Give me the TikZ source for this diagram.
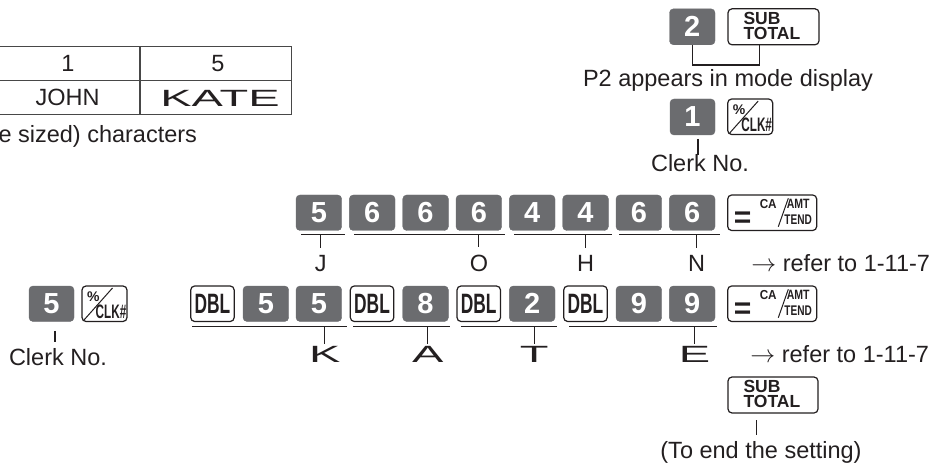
\documentclass[tikz,border=0pt]{standalone}
\usepackage{graphicx}
\usepackage{fontspec}
\setmainfont{Liberation Sans}
\usetikzlibrary{calc}
\definecolor{keygray}{HTML}{6B6C6F}
\definecolor{ink}{HTML}{231F20}
\newcommand{\widetxt}[1]{\scalebox{2}[1]{#1}}
\newcommand{\condtxt}[2]{\scalebox{#1}[1]{#2}}
\tikzset{
  base/.style={inner sep=0pt, outer sep=0pt, text=ink},
  dkey/.style={base, fill=keygray, draw=keygray, rounded corners=4pt,
    minimum width=45.7pt, minimum height=35.5pt, text=white,
    font=\fontsize{29}{29}\selectfont\bfseries},
  wkey/.style={base, fill=white, draw=ink, line width=1.2pt, rounded corners=4pt,
    minimum height=35.5pt},
  dblkey/.style={wkey, minimum width=43.5pt, font=\fontsize{28}{28}\selectfont\bfseries},
  lbl/.style={base, anchor=base, font=\fontsize{23.5}{28}\selectfont},
  conn/.style={draw=ink, line width=1.1pt},
  tline/.style={draw=black!72, line width=1.4pt},
}
\newcommand{\clkkey}[3]{%
  \node[wkey, minimum width=45pt, anchor=north west] (#1) at (#2,#3) {};
  \node[base, font=\fontsize{14}{14}\selectfont\bfseries] (#1pc) at ($(#1.north west)+(11.3,11)$) {\%};
  \draw[conn, line width=1pt] ($(#1.north west)+(2,34)$) -- ($(#1.north west)+(30.5,2)$);
  \node[base, font=\fontsize{19.5}{19.5}\selectfont\bfseries] (#1ck) at ($(#1.north west)+(29,25.5)$) {\condtxt{0.6}{CLK\#}};
}
\newcommand{\eqkey}[3]{%
  \node[wkey, minimum width=89pt, anchor=north west] (#1) at (#2,#3) {};
  \node[base, font=\fontsize{30}{30}\selectfont\bfseries] (#1eq) at ($(#1.north west)+(15,24.5)$) {=};
  \node[base, font=\fontsize{13}{13}\selectfont\bfseries] (#1ca) at ($(#1.north west)+(40.5,9.5)$) {\condtxt{0.9}{CA}};
  \draw[conn, line width=1pt] ($(#1.north west)+(50.6,31.7)$) -- ($(#1.north west)+(60.6,3.3)$);
  \node[base, font=\fontsize{13.5}{13.5}\selectfont\bfseries] (#1am) at ($(#1.north west)+(70.5,9)$) {\condtxt{0.78}{AMT}};
  \node[base, font=\fontsize{14}{14}\selectfont\bfseries] (#1te) at ($(#1.north west)+(70.5,24.5)$) {\condtxt{0.72}{TEND}};
}
\newcommand{\subkey}[4]{%
  \node[wkey, minimum width=#4pt, minimum height=36pt, anchor=north west] (#1) at (#2,#3) {};
  \node[base, anchor=north west, align=left, font=\fontsize{17.5}{14.5}\selectfont\bfseries] (#1s) at ($(#1.north west)+(15.5,3.6)$) {SUB\\TOTAL};
}
\begin{document}
\begin{tikzpicture}[x=1pt,y=-1pt]
\useasboundingbox (0,0) rectangle (932,465);

% ---------- table ----------
\draw[tline] (-10,46.7) -- (291.7,46.7) -- (291.7,114.3) -- (-10,114.3);
\draw[tline] (-10,80.7) -- (291.7,80.7);
\draw[tline] (140,46.7) -- (140,114.3);
\node[lbl] (tone) at (68,72) {1};
\node[lbl] (tfive) at (218,72) {5};
\node[lbl] (tjohn) at (67.5,106) {JOHN};
\node[lbl] (tkate) at (220,106.5) {\widetxt{KATE}};
\node[lbl, anchor=base west] (tchar) at (-1.5,143) {e sized) characters};

% ---------- top right ----------
\node[dkey, minimum width=45.5pt, minimum height=36pt, anchor=north west] (ktwo) at (669.5,8.8) {2};
\subkey{stA}{728}{8.8}{91}
\draw[conn] (ktwo.south) -- ++(0,20.2) -| ($(stA.south)+(-14.2,0)$);
\node[lbl] (ptwo) at (728,86.5) {P2 appears in mode display};
\node[dkey, minimum width=45pt, minimum height=36pt, anchor=north west] (kone) at (670,99) {1};
\clkkey{clkA}{727.7}{99}
\node[lbl] (clerkA) at (700,172) {Clerk No.};
\draw[conn, shorten <=4pt] ($(kone.south)+(5.5,0)$) -- ($(clerkA.north)+(-2,0)$);

% ---------- row 1 ----------
\foreach \n/\d/\x in {a/5/296, b/6/349.3, c/6/402.7, d/6/456, e/4/509.3, f/4/562.7, g/6/616, h/6/669.3}
  \node[dkey, anchor=north west] (ra\n) at (\x,195) {\d};
\eqkey{eqA}{727.7}{195}
\draw[conn] ($(raa.south west)+(5,4.3)$) -- ($(raa.south east)+(3.5,4.3)$);
\draw[conn] ($(rab.south west)+(5,4.3)$) -- ($(rad.south east)+(3.5,4.3)$);
\draw[conn] ($(rae.south west)+(5,4.3)$) -- ($(raf.south east)+(3.5,4.3)$);
\draw[conn] ($(rag.south west)+(3,4.3)$) -- ($(rah.south east)+(5,4.3)$);
\foreach \nm/\x in {J/320.8, O/478.9, H/585.6, N/696.7} {
  \coordinate (u\nm) at (\x,235);
  \node[lbl] (l\nm) at (\x,272) {\nm};
  \draw[conn, shorten >=8.2pt] (u\nm) -- (l\nm);
}
\node[lbl, anchor=base east] (refA) at (930,272) {$\rightarrow$ refer to 1-11-7};

% ---------- row 2 ----------
\node[dkey, minimum width=45pt, anchor=north west] (kfive) at (29,286) {5};
\clkkey{clkB}{82}{286}
\node[lbl] (clerkB) at (58,365) {Clerk No.};
\draw[conn, shorten <=9.3pt, shorten >=6pt] ($(kfive.south)+(3.5,0)$) -- ($(clerkB.north)+(-3,0)$);

\node[dblkey, anchor=north west] (rba) at (190.7,286) {\condtxt{0.62}{DBL}};
\node[dkey, anchor=north west] (rbb) at (243,286) {5};
\node[dkey, anchor=north west] (rbc) at (296,286) {5};
\node[dblkey, anchor=north west] (rbd) at (350.3,286) {\condtxt{0.62}{DBL}};
\node[dkey, anchor=north west] (rbe) at (402.7,286) {8};
\node[dblkey, anchor=north west] (rbf) at (457,286) {\condtxt{0.62}{DBL}};
\node[dkey, anchor=north west] (rbg) at (509.3,286) {2};
\node[dblkey, anchor=north west] (rbh) at (563.7,286) {\condtxt{0.62}{DBL}};
\node[dkey, anchor=north west] (rbi) at (616,286) {9};
\node[dkey, anchor=north west] (rbj) at (669.3,286) {9};
\eqkey{eqB}{727.7}{286}
\draw[conn] ($(rba.south west)+(1.5,5.3)$) -- ($(rbc.south east)+(5.3,5.3)$);
\draw[conn] ($(rbd.south west)+(2.7,5.3)$) -- ($(rbe.south east)+(1.6,5.3)$);
\draw[conn] ($(rbf.south west)+(3.7,5.3)$) -- ($(rbg.south east)+(1.7,5.3)$);
\draw[conn] ($(rbh.south west)+(5.3,5.3)$) -- ($(rbj.south east)+(2,5.3)$);
\foreach \nm/\x in {K/324.8, A/427.7, T/534.3, E/694.5} {
  \coordinate (v\nm) at (\x,327);
  \node[lbl] (m\nm) at (\x,362) {\widetxt{\nm}};
  \draw[conn, shorten >=2.2pt] (v\nm) -- (m\nm);
}
\node[lbl, anchor=base east] (refB) at (929,362.5) {$\rightarrow$ refer to 1-11-7};

% ---------- bottom ----------
\subkey{stB}{728}{377}{90}
\node[lbl] (endtxt) at (761,458) {(To end the setting)};
\draw[conn, shorten <=7.3pt, shorten >=5.8pt] ($(stB.south)+(-16.3,0)$) -- ($(endtxt.north)+(-4.3,0)$);
\end{tikzpicture}
\end{document}
